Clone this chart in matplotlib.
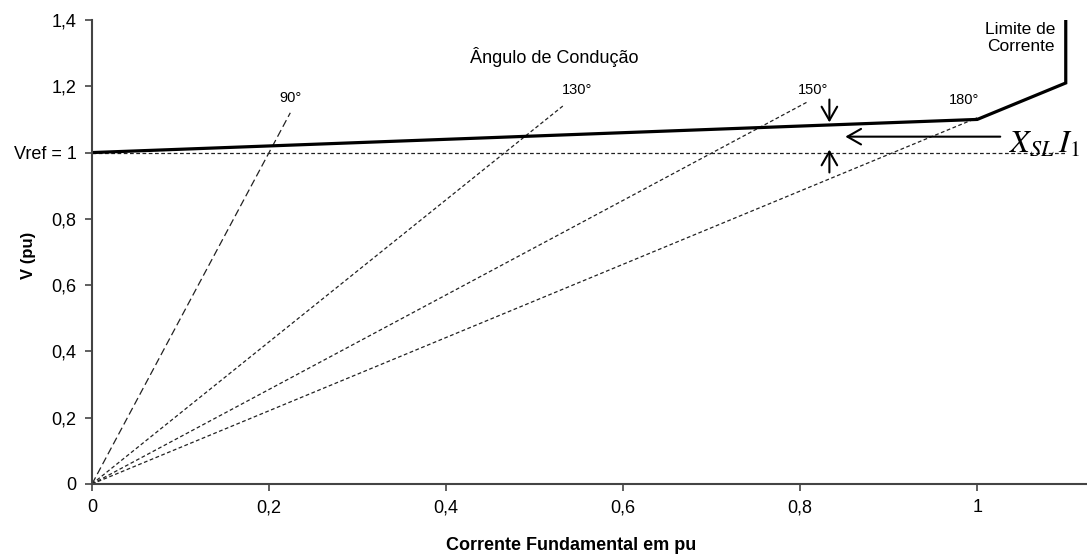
import matplotlib.pyplot as plt

plt.rcParams["font.family"] = ["Liberation Sans", "DejaVu Sans"]
plt.rcParams["mathtext.fontset"] = "stix"

# characteristic curve (thick line)
curve_i = [0.0, 1.0, 1.1, 1.1]
curve_v = [1.0, 1.1, 1.21, 1.4]

# conduction angle lines from the origin
angles = ["90°", "130°", "150°", "180°"]
end_i = [0.224, 0.534, 0.809, 1.0]
end_v = [1.12, 1.145, 1.154, 1.105]

vref = 1.0
vref_end = 1.1

x_ticks = [0, 0.2, 0.4, 0.6, 0.8, 1.0]
x_labels = ["0", "0,2", "0,4", "0,6", "0,8", "1"]
y_ticks = [0, 0.2, 0.4, 0.6, 0.8, 1.0, 1.2, 1.4]
y_labels = ["0", "0,2", "0,4", "0,6", "0,8", "Vref = 1", "1,2", "1,4"]

fig = plt.figure(figsize=(10.87, 5.59), dpi=100)
ax = fig.add_axes([92 / 1087, 75 / 559, 995 / 1087, 464 / 559])

dashes = [(6, 3), (3, 2), (3, 2), (3, 2)]
for a, xi, vi, d in zip(angles, end_i, end_v, dashes):
    ax.plot([0, xi], [0, vi], color="#222222", lw=0.9, dashes=d)

ax.plot([0, vref_end], [vref, vref], color="#222222", lw=0.9, dashes=(3, 2))
ax.plot(curve_i, curve_v, color="black", lw=2.3, solid_joinstyle="miter")

# angle labels
label_pos = [(0.224, 1.165), (0.548, 1.19), (0.815, 1.19), (0.985, 1.16)]
for a, (px, py) in zip(angles, label_pos):
    ax.text(px, py, a, fontsize=10.5, ha="center", va="center")

ax.text(0.522, 1.287, "Ângulo de Condução", fontsize=13, ha="center", va="center")
ax.text(1.049, 1.345, "Limite de\nCorrente", fontsize=12.5, ha="center", va="center",
        linespacing=1.15)

# X_SL I_1 annotation
arr = dict(arrowstyle="->,head_length=0.7,head_width=0.4", color="black", lw=1.5,
           mutation_scale=14, shrinkA=0, shrinkB=0)
ax.annotate("", xy=(0.833, 1.091), xytext=(0.833, 1.16), arrowprops=arr)
ax.annotate("", xy=(0.833, 1.009), xytext=(0.833, 0.94), arrowprops=arr)
ax.annotate("", xy=(0.851, 1.048), xytext=(1.026, 1.048), arrowprops=arr)
ax.text(1.036, 1.003, r"$X_{SL}\,I_{1}$", fontsize=23, ha="left",
        va="baseline")

ax.set_xlim(0, 1.124)
ax.set_ylim(0, 1.4)
ax.set_xticks(x_ticks)
ax.set_xticklabels(x_labels)
ax.set_yticks(y_ticks)
ax.set_yticklabels(y_labels)
ax.tick_params(direction="out", length=5, width=1.2, color="#444444",
               labelsize=13, pad=6)
for s in ["top", "right"]:
    ax.spines[s].set_visible(False)
for s in ["left", "bottom"]:
    ax.spines[s].set_color("#444444")
    ax.spines[s].set_linewidth(1.5)

fig.text(29 / 1087, 1 - 255 / 559, "V (pu)", rotation=90, fontsize=12,
         fontweight="bold", ha="center", va="center")
fig.text(571 / 1087, 1 - 545 / 559, "Corrente Fundamental em pu", fontsize=13,
         fontweight="bold", ha="center", va="center")

fig.savefig("out.png", dpi=100)
